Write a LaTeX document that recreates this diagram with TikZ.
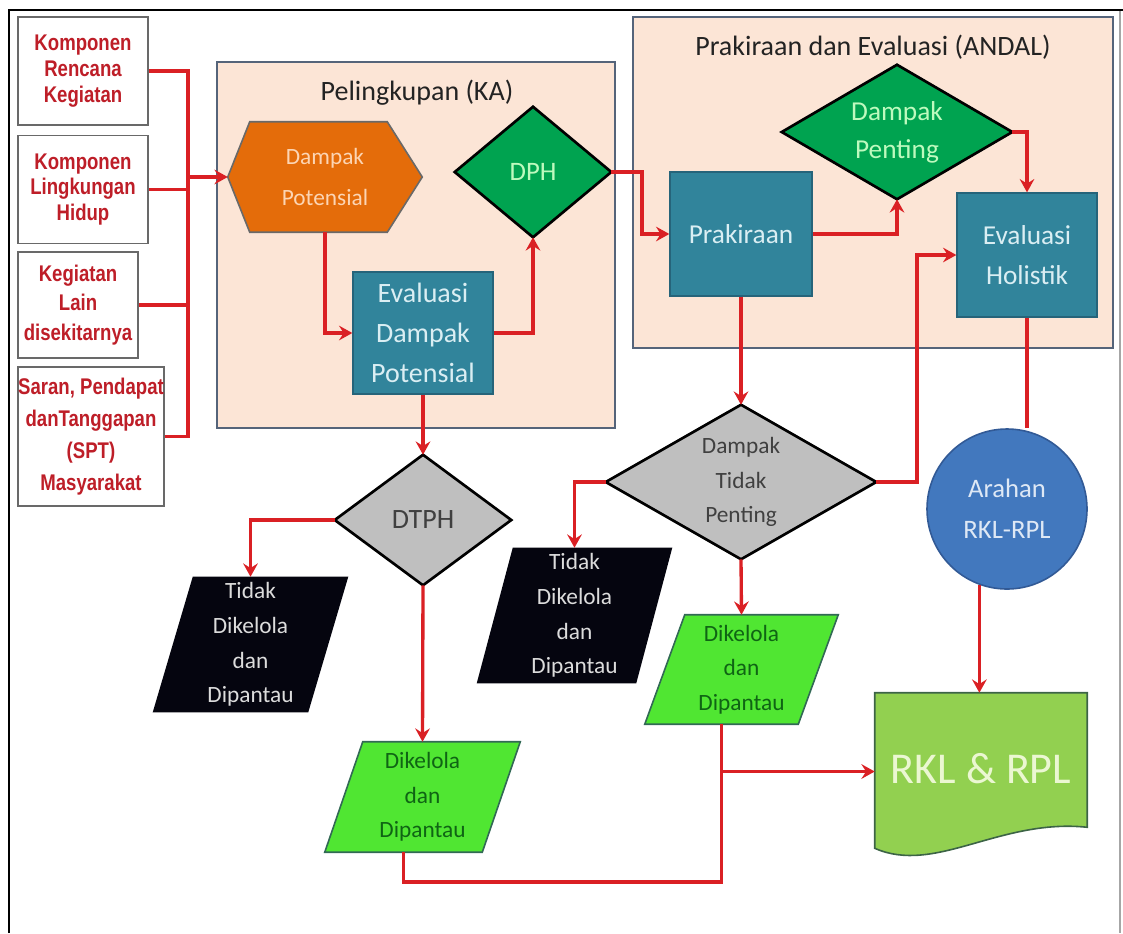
\documentclass[tikz,border=0pt]{standalone}
\usepackage{fontspec}
\setmainfont{Carlito}
\newfontfamily\narrowb{Liberation Sans}[FakeStretch=0.82]
\usetikzlibrary{arrows.meta,calc}
\pgfdeclarelayer{back}
\pgfdeclarelayer{mid}
\pgfsetlayers{back,mid,main}

\definecolor{linered}{RGB}{218,32,36}
\definecolor{srcred}{RGB}{190,30,40}
\definecolor{boxgray}{RGB}{105,105,105}
\definecolor{peach}{RGB}{252,229,214}
\definecolor{contborder}{RGB}{85,100,122}
\definecolor{hexorange}{RGB}{228,108,10}
\definecolor{hextext}{RGB}{252,213,180}
\definecolor{teal}{RGB}{49,132,155}
\definecolor{tealborder}{RGB}{38,100,122}
\definecolor{tealtext}{RGB}{218,238,243}
\definecolor{diagreen}{RGB}{0,163,80}
\definecolor{diagreentext}{RGB}{190,250,190}
\definecolor{diagray}{RGB}{191,191,191}
\definecolor{diagraytext}{RGB}{64,64,64}
\definecolor{paradark}{RGB}{5,5,15}
\definecolor{paradarktext}{RGB}{220,220,220}
\definecolor{paragreen}{RGB}{80,230,50}
\definecolor{paragreenborder}{RGB}{50,105,85}
\definecolor{paragreentext}{RGB}{15,100,20}
\definecolor{circblue}{RGB}{66,120,190}
\definecolor{circborder}{RGB}{50,90,150}
\definecolor{circtext}{RGB}{222,232,245}
\definecolor{docgreen}{RGB}{146,208,80}
\definecolor{docborder}{RGB}{60,100,70}
\definecolor{doctext}{RGB}{235,247,210}
\definecolor{titlegray}{RGB}{35,35,35}

\tikzset{
  conn/.style={draw=linered, line width=2.5pt},
  arr/.style={conn, -{Stealth[length=10pt,width=11pt,inset=3.5pt]}},
  srcbox/.style={rectangle, draw=boxgray, fill=white, line width=1.3pt, inner sep=0pt,
    align=center, text=srcred},
  srcfont/.style={font=\narrowb\bfseries\fontsize{17}{#1}\selectfont},
  container/.style={rectangle, draw=contborder, fill=peach, line width=1.8pt, inner sep=0pt},
  titletext/.style={inner sep=0pt, text=titlegray, font=\fontsize{21}{25}\selectfont},
  shapeframe/.style={rectangle, inner sep=0pt, align=center},
  tealbox/.style={rectangle, draw=tealborder, fill=teal, line width=1pt, inner sep=0pt,
    align=center, text=tealtext},
  hexfill/.style={draw=boxgray, fill=hexorange, line width=1.2pt},
  greendia/.style={draw=black, fill=diagreen, line width=2pt},
  graydia/.style={draw=black, fill=diagray, line width=2pt},
  darkpara/.style={fill=paradark},
  greenpara/.style={draw=paragreenborder, fill=paragreen, line width=1.2pt},
  docfill/.style={draw=docborder, fill=docgreen, line width=1.2pt},
  circnode/.style={circle, draw=circborder, fill=circblue, line width=1.2pt, inner sep=0pt,
    minimum size=120pt, align=center, text=circtext, font=\fontsize{20}{31}\selectfont},
}

\begin{document}
\begin{tikzpicture}[x=0.75pt, y=-0.75pt]
\useasboundingbox (0,0) rectangle (1123,933);

% outer frame
\draw[line width=2pt, black] (9,933) -- (9,10) -- (1123,10);
\draw[line width=0.8pt, black!35] (1120,11) -- (1120,933);

% containers
\begin{pgfonlayer}{back}
  \node[container, minimum width=298.5pt, minimum height=274.5pt] (ka) at (416,245) {};
  \node[container, minimum width=360pt, minimum height=248.25pt] (andal) at (873,182.5) {};
\end{pgfonlayer}
\node[titletext] (katitle) at (417,93) {Pelingkupan (KA)};
\node[titletext] (andaltitle) at (873,47) {Prakiraan dan Evaluasi (ANDAL)};

% source boxes
\node[srcbox, srcfont=19.5, minimum width=97.5pt, minimum height=81pt] (k1) at (83,71)
  {Komponen\\Rencana\\Kegiatan};
\node[srcbox, srcfont=19, minimum width=97.5pt, minimum height=81pt] (k2) at (83,189.5)
  {Komponen\\Lingkungan\\Hidup};
\node[srcbox, srcfont=22, minimum width=90pt, minimum height=79.5pt] (k3) at (78,305)
  {Kegiatan\\Lain\\disekitarnya};
\node[srcbox, srcfont=24, minimum width=106.5pt, minimum height=104.25pt] (k4) at (91,436.5)
  {Saran, Pendapat\\danTanggapan\\(SPT)\\Masyarakat};
\coordinate (bus) at (188,177);

% Pelingkupan content
\node[shapeframe, minimum width=145.5pt, minimum height=82.5pt, text=hextext,
  font=\fontsize{17.5}{31}\selectfont] (dp) at (325,177) {Dampak\\Potensial};
\node[tealbox, minimum width=105pt, minimum height=91.5pt,
  font=\fontsize{21}{30}\selectfont] (edp) at (423,333) {Evaluasi\\Dampak\\Potensial};
\node[shapeframe, minimum width=117pt, minimum height=97.5pt, text=diagreentext,
  font=\fontsize{20}{24}\selectfont] (dph) at (533,172) {DPH};

% lower left
\node[shapeframe, minimum width=132pt, minimum height=97.5pt, text=diagraytext,
  font=\fontsize{21}{25}\selectfont] (dtph) at (423,520) {DTPH};
\node[shapeframe, minimum width=146.25pt, minimum height=101.25pt, text=paradarktext,
  font=\fontsize{17.5}{26}\selectfont] (t1) at (250.5,644.5) {Tidak\\Dikelola\\dan\\Dipantau};
\node[shapeframe, minimum width=146.25pt, minimum height=82.5pt, text=paragreentext,
  font=\fontsize{17.5}{26}\selectfont] (g1) at (422.5,797) {Dikelola\\dan\\Dipantau};

% ANDAL content
\node[shapeframe, minimum width=172.5pt, minimum height=100.5pt, text=diagreentext,
  font=\fontsize{20.5}{28.5}\selectfont] (dpen) at (897,132) {Dampak\\Penting};
\node[tealbox, minimum width=106.5pt, minimum height=93pt,
  font=\fontsize{20.5}{30}\selectfont] (prak) at (741,234) {Prakiraan};
\node[tealbox, minimum width=105pt, minimum height=93pt,
  font=\fontsize{20.5}{30}\selectfont] (eh) at (1027,255) {Evaluasi\\Holistik};

% lower right
\node[shapeframe, minimum width=202.5pt, minimum height=115.5pt, text=diagraytext,
  font=\fontsize{17.5}{26}\selectfont] (dtp) at (741,482) {Dampak\\Tidak\\Penting};
\node[shapeframe, minimum width=146.25pt, minimum height=101.25pt, text=paradarktext,
  font=\fontsize{17.5}{26}\selectfont] (t2) at (574.5,615.5) {Tidak\\Dikelola\\dan\\Dipantau};
\node[shapeframe, minimum width=144.75pt, minimum height=81.75pt, text=paragreentext,
  font=\fontsize{17.5}{26}\selectfont] (g2) at (741.5,669.5) {Dikelola\\dan\\Dipantau};
\node[circnode] (arah) at (1007,509) {Arahan\\RKL-RPL};
\node[shapeframe, minimum width=159pt, minimum height=117.75pt, text=doctext,
  font=\fontsize{33}{36}\selectfont] (rkl) at (981,771.5) {\raisebox{5pt}{RKL \& RPL}};

% shape outlines behind texts
\begin{pgfonlayer}{mid}
  \path[hexfill] (dp.west) -- ($(dp.north west)+(22,0)$) -- ($(dp.north east)+(-35,0)$)
    -- (dp.east) -- ($(dp.south east)+(-35,0)$) -- ($(dp.south west)+(22,0)$) -- cycle;
  \path[greendia] (dph.north) -- (dph.east) -- (dph.south) -- (dph.west) -- cycle;
  \path[greendia] (dpen.north) -- (dpen.east) -- (dpen.south) -- (dpen.west) -- cycle;
  \path[graydia] (dtph.north) -- (dtph.east) -- (dtph.south) -- (dtph.west) -- cycle;
  \path[graydia] (dtp.north) -- (dtp.east) -- (dtp.south) -- (dtp.west) -- cycle;
  \path[darkpara] (t1.south west) -- ($(t1.north west)+(40,0)$) -- (t1.north east)
    -- ($(t1.south east)+(-40,0)$) -- cycle;
  \path[darkpara] (t2.south west) -- ($(t2.north west)+(36,0)$) -- (t2.north east)
    -- ($(t2.south east)+(-36,0)$) -- cycle;
  \path[greenpara] (g1.south west) -- ($(g1.north west)+(38,0)$) -- (g1.north east)
    -- ($(g1.south east)+(-38,0)$) -- cycle;
  \path[greenpara] (g2.south west) -- ($(g2.north west)+(40,0)$) -- (g2.north east)
    -- ($(g2.south east)+(-40,0)$) -- cycle;
  \path[docfill] (rkl.north west) -- (rkl.north east) -- ($(rkl.south east)+(0,-23)$)
    .. controls (1000,818) and (935,875) .. ($(rkl.south west)+(0,-2)$) -- cycle;
\end{pgfonlayer}

% connectors: sources
\draw[conn] (k1.east) -| (bus);
\draw[conn] (k2.east) -| (bus);
\draw[conn] (k3.east) -| (bus);
\draw[conn] (k4.east) -| (bus);
\draw[arr] (bus) -- (dp.west);

% Pelingkupan
\draw[arr] (dp.south) |- (edp.west);
\draw[arr] (edp.east) -| (dph.south);
\draw[arr] (edp.south) -- (dtph.north);
\draw[arr] (dtph.west) -| (t1.north);
\draw[arr] (dtph.south) -- (g1.north);

% to ANDAL
\coordinate (c1) at (642,172);
\draw[arr] (dph.east) -- (c1) |- (prak.west);
\draw[arr] (prak.east) -| (dpen.south);
\draw[arr] (dpen.east) -| (eh.north);
\draw[arr] (prak.south) -- (dtp.north);
\draw[arr] (dtp.west) -| (t2.north);
\draw[arr] (dtp.south) -- (g2.north);
\coordinate (c2) at (917,482);
\draw[arr] (dtp.east) -- (c2) |- (eh.west);
\draw[conn] (eh.south) -- (eh.south |- arah.north);
\draw[arr] (arah.250) -- (arah.250 |- rkl.north);

% to RKL & RPL
\coordinate (j1) at (721.5,882);
\coordinate (j2) at (721.5,771.5);
\draw[conn] ($(g1.south)+(-19,0)$) |- (j1) -- (j2);
\draw[conn] ($(g2.south)+(-20,0)$) -- (j2);
\draw[arr] (j2) -- (rkl.west);
\end{tikzpicture}
\end{document}
